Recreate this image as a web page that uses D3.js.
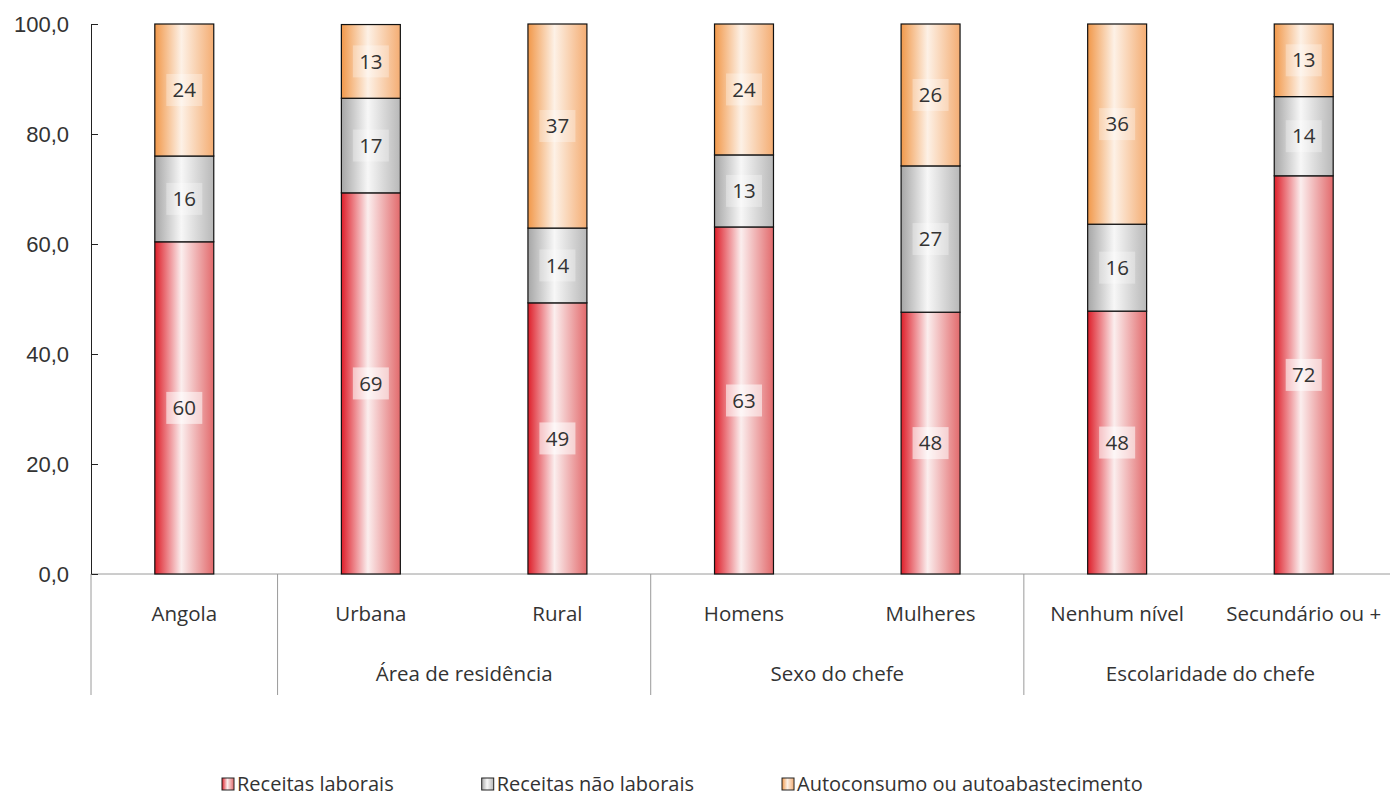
<!DOCTYPE html>
<html>
<head>
<meta charset="utf-8">
<script src="https://cdn.jsdelivr.net/npm/d3@7"></script>
<style>
  body { margin: 0; background: #fff; }
  svg { display: block; font-family: "Open Sans", sans-serif; }
  .tick text { font-size: 22px; fill: #333; }
</style>
</head>
<body>
<div id="chart"></div>
<script>
"use strict";

// categories (bottom row) and their groups (second row)
var categories = ["Angola", "Urbana", "Rural", "Homens", "Mulheres", "Nenhum nível", "Secundário ou +"];
var groupNames = ["", "Área de residência", "Sexo do chefe", "Escolaridade do chefe"];
var groupOf = ["", "Área de residência", "Área de residência", "Sexo do chefe", "Sexo do chefe", "Escolaridade do chefe", "Escolaridade do chefe"];

// series, percent
var seriesNames = ["Receitas laborais", "Receitas não laborais", "Autoconsumo ou autoabastecimento"];
var laborais    = [60.4, 69.3, 49.3, 63.1, 47.6, 47.8, 72.4];
var naoLaborais = [15.6, 17.2, 13.6, 13.1, 26.6, 15.8, 14.4];
var autoconsumo = [24.0, 13.4, 37.1, 23.8, 25.8, 36.4, 13.2];

var yTicks = [0, 20, 40, 60, 80, 100];

var W = 1390, H = 796;
var plotLeft = 91, plotRight = 1397, plotTop = 24, plotBottom = 574;

var svg = d3.select("#chart").append("svg")
    .attr("width", W).attr("height", H);

// gradients, one per series
var gradColors = [
  ["#de1f2a", "#fbeeee", "#e26a6c"],
  ["#a6a6a6", "#f7f7f7", "#b8b8b8"],
  ["#f1984a", "#fdf1e6", "#f4ad73"]
];
var defs = svg.append("defs");
gradColors.forEach(function(c, i) {
  var g = defs.append("linearGradient").attr("id", "grad" + i)
      .attr("x1", "0%").attr("x2", "100%").attr("y1", "0%").attr("y2", "0%");
  g.append("stop").attr("offset", "0%").attr("stop-color", c[0]);
  g.append("stop").attr("offset", "45%").attr("stop-color", c[1]);
  g.append("stop").attr("offset", "100%").attr("stop-color", c[2]);
});

var slot = d3.scaleBand().domain(categories).range([plotLeft, plotRight]);
var barW = slot.bandwidth() * 0.316;

var y = d3.scaleLinear().domain([0, 100]).range([plotBottom, plotTop]);

// stacked data
var table = categories.map(function(c, i) {
  return { cat: c, s0: laborais[i], s1: naoLaborais[i], s2: autoconsumo[i] };
});
var stack = d3.stack().keys(["s0", "s1", "s2"])(table);

// x axis line (grey)
svg.append("line")
    .attr("x1", plotLeft).attr("x2", W).attr("y1", plotBottom).attr("y2", plotBottom)
    .attr("stroke", "#9a9a9a").attr("stroke-width", 1);

// y axis
var yAxis = svg.append("g")
    .attr("transform", "translate(" + plotLeft + ",0)")
    .call(d3.axisLeft(y).tickValues(yTicks)
      .tickSizeInner(-7).tickSizeOuter(0).tickPadding(22)
      .tickFormat(function(d) { return d.toFixed(1).replace(".", ","); }));
yAxis.select(".domain").attr("stroke", "#222");
yAxis.selectAll(".tick line").attr("stroke", "#222");

// bars
stack.forEach(function(layer, si) {
  svg.append("g").selectAll("rect")
    .data(layer)
    .enter().append("rect")
      .attr("x", function(d) { return slot(d.data.cat) + (slot.bandwidth() - barW) / 2; })
      .attr("y", function(d) { return y(d[1]); })
      .attr("width", barW)
      .attr("height", function(d) { return y(d[0]) - y(d[1]); })
      .attr("fill", "url(#grad" + si + ")")
      .attr("stroke", "#111").attr("stroke-width", 1.2);
});

// data labels
stack.forEach(function(layer, si) {
  var lg = svg.append("g").selectAll("g")
    .data(layer)
    .enter().append("g")
      .attr("transform", function(d) {
        return "translate(" + (slot(d.data.cat) + slot.bandwidth() / 2) + "," + y((d[0] + d[1]) / 2) + ")";
      });
  lg.append("rect")
      .attr("x", -18).attr("y", -16).attr("width", 36).attr("height", 32)
      .attr("fill", "#fff").attr("fill-opacity", si === 0 ? 0.55 : 0.3);
  lg.append("text")
      .attr("text-anchor", "middle").attr("dy", "0.35em")
      .attr("font-size", 20.5).attr("fill", "#333")
      .text(function(d) { return Math.round(d[1] - d[0]); });
});

// category labels
svg.append("g").selectAll("text")
  .data(categories)
  .enter().append("text")
    .attr("x", function(d) { return slot(d) + slot.bandwidth() / 2; })
    .attr("y", 614).attr("dy", "0.35em")
    .attr("text-anchor", "middle").attr("font-size", 20.5).attr("fill", "#333")
    .text(function(d) { return d; });

// group separators and labels
groupNames.forEach(function(g) {
  var members = categories.filter(function(c, i) { return groupOf[i] === g; });
  var x0 = slot(members[0]);
  var x1 = slot(members[members.length - 1]) + slot.bandwidth();
  svg.append("line")
      .attr("x1", x0).attr("x2", x0).attr("y1", plotBottom).attr("y2", 695)
      .attr("stroke", "#9a9a9a").attr("stroke-width", 1);
  if (g) {
    svg.append("text")
        .attr("x", (x0 + x1) / 2).attr("y", 674).attr("dy", "0.35em")
        .attr("text-anchor", "middle").attr("font-size", 20.5).attr("fill", "#333")
        .text(g);
  }
});

// legend
var legend = svg.append("g").attr("transform", "translate(0,784)");
var lx = 222;
seriesNames.forEach(function(n, i) {
  var it = legend.append("g").attr("transform", "translate(" + lx + ",0)");
  it.append("rect").attr("x", 0).attr("y", -6).attr("width", 12).attr("height", 12)
      .attr("fill", "url(#grad" + i + ")").attr("stroke", "#222").attr("stroke-width", 1);
  var t = it.append("text").attr("x", 15).attr("dy", "0.35em")
      .attr("font-size", 20).attr("fill", "#333").text(n);
  lx += 15 + t.node().getComputedTextLength() + 88;
});
</script>
</body>
</html>
